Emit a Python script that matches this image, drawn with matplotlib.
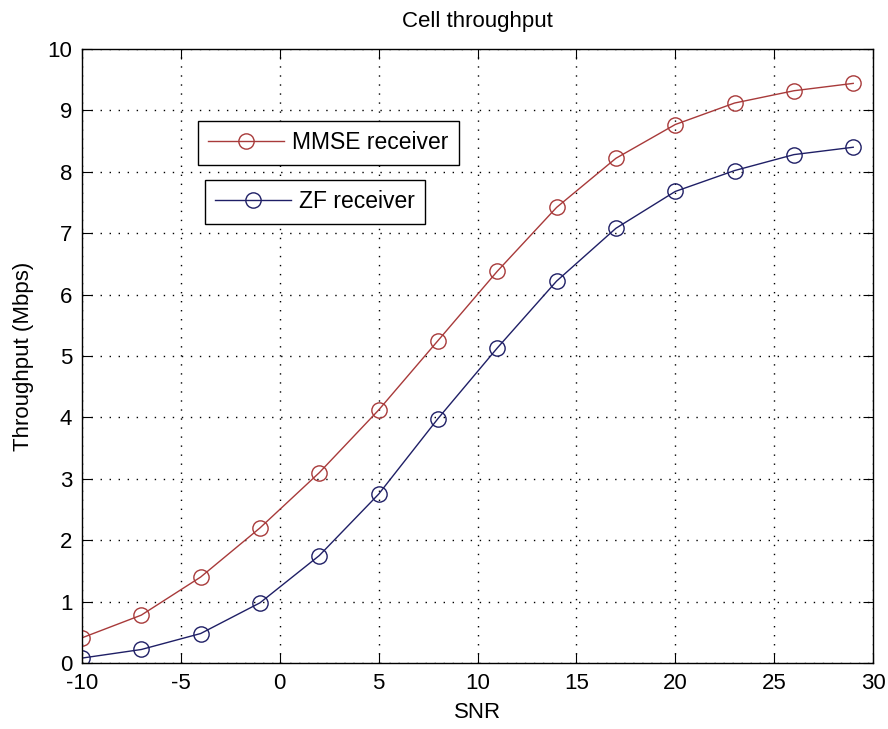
import matplotlib
matplotlib.use("Agg")
import matplotlib.pyplot as plt

snr = [-10, -7, -4, -1, 2, 5, 8, 11, 14, 17, 20, 23, 26, 29]
mmse = [0.41, 0.78, 1.40, 2.20, 3.10, 4.12, 5.25, 6.38, 7.42, 8.22, 8.77, 9.12, 9.32, 9.44]
zf = [0.08, 0.22, 0.48, 0.98, 1.75, 2.75, 3.98, 5.13, 6.22, 7.08, 7.68, 8.02, 8.28, 8.40]

xticks = [-10, -5, 0, 5, 10, 15, 20, 25, 30]
yticks = list(range(0, 11))

plt.rcParams['font.family'] = ['Liberation Sans', 'DejaVu Sans']
plt.rcParams['axes.unicode_minus'] = False

fig = plt.figure(figsize=(8.88, 7.29), dpi=100)
W, H = 888, 729
ax = fig.add_axes([82 / W, 1 - 663 / H, (873 - 82) / W, (663 - 49) / H])

red = '#a83a3a'
blue = '#1f1f66'
l1, = ax.plot(snr, mmse, '-o', color=red, lw=1.0, mfc='none', mec=red, ms=11, mew=1.0)
l2, = ax.plot(snr, zf, '-o', color=blue, lw=1.0, mfc='none', mec=blue, ms=11, mew=1.0)

ax.set_xlim(-10, 30)
ax.set_ylim(0, 10)
ax.set_xticks(xticks)
ax.set_yticks(yticks)
ax.grid(True, color='black', linestyle=(0, (1, 5.5)), linewidth=1.0)
ax.tick_params(direction='in', top=True, right=True, labelsize=16, length=7)
ax.tick_params(axis='x', pad=7)
ax.tick_params(axis='y', pad=7)
for s in ax.spines.values():
    s.set_linewidth(1.0)

ax.set_title('Cell throughput', fontsize=16, pad=16)
ax.set_xlabel('SNR', fontsize=16, labelpad=6)
ax.set_ylabel('Throughput (Mbps)', fontsize=16, labelpad=10)

aw, ah = (873 - 82), (663 - 49)
leg1 = ax.legend([l1], ['MMSE receiver'], loc='upper left',
                 bbox_to_anchor=((198 - 82) / aw, 1 - (121 - 49) / ah),
                 fontsize=16.5, fancybox=False, edgecolor='black', framealpha=1,
                 borderaxespad=0, handlelength=3.3, handletextpad=0.35, borderpad=0.45)
leg1.get_frame().set_linewidth(1.0)
ax.add_artist(leg1)
leg2 = ax.legend([l2], ['ZF receiver'], loc='upper left',
                 bbox_to_anchor=((205 - 82) / aw, 1 - (180 - 49) / ah),
                 fontsize=16.5, fancybox=False, edgecolor='black', framealpha=1,
                 borderaxespad=0, handlelength=3.3, handletextpad=0.35, borderpad=0.45)
leg2.get_frame().set_linewidth(1.0)

fig.savefig('out.png', dpi=100)
